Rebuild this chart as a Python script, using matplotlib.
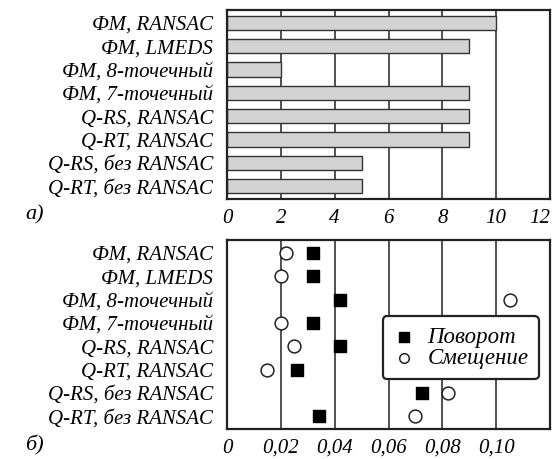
import matplotlib
matplotlib.use("Agg")
import matplotlib.pyplot as plt
import numpy as np

categories = ["ФМ, RANSAC", "ФМ, LMEDS", "ФМ, 8-точечный", "ФМ, 7-точечный",
              "Q-RS, RANSAC", "Q-RT, RANSAC", "Q-RS, без RANSAC", "Q-RT, без RANSAC"]
counts = [10, 9, 2, 9, 9, 9, 5, 5]
rotation = [0.032, 0.032, 0.042, 0.032, 0.042, 0.026, 0.0725, 0.034]
shift = [0.022, 0.020, 0.105, 0.020, 0.025, 0.015, 0.082, 0.070]
top_ticks = [0, 2, 4, 6, 8, 10, 12]
top_ticklabels = ["0", "2", "4", "6", "8", "10", "12"]
bot_ticks = [0, 0.02, 0.04, 0.06, 0.08, 0.10]
bot_ticklabels = ["0", "0,02", "0,04", "0,06", "0,08", "0,10"]

plt.rcParams['font.family'] = ['Liberation Serif', 'DejaVu Serif']
plt.rcParams['font.style'] = 'italic'

W, H = 555, 459
fig = plt.figure(figsize=(W/100, H/100), dpi=100)

def ax_rect(x0, y0, x1, y1):
    return [x0/W, 1 - y1/H, (x1-x0)/W, (y1-y0)/H]

ax1 = fig.add_axes(ax_rect(227, 10, 550, 199))
ax2 = fig.add_axes(ax_rect(227, 240, 550, 429))

ypos = np.arange(len(categories))
fs = 15

for ax in (ax1, ax2):
    for s in ax.spines.values():
        s.set_linewidth(1.6)
        s.set_color('#222222')
    ax.set_ylim(len(categories) - 0.45, -0.55)
    ax.set_yticks(ypos)
    ax.set_yticklabels(categories, fontsize=fs, style='italic')
    ax.tick_params(axis='y', length=0, pad=10)
    ax.tick_params(axis='x', length=0, pad=7)
    ax.set_axisbelow(True)
    ax.grid(axis='x', color='#222222', linewidth=1.1)

ax1.barh(ypos, counts, height=0.62, color='#d3d3d3', edgecolor='#333333', linewidth=1.0, zorder=2)
ax1.set_xlim(0, 12)
ax1.set_xticks(top_ticks)
ax1.set_xticklabels(top_ticklabels, fontsize=fs, style='italic')
ax1.get_xticklabels()[-1].set_horizontalalignment('right')

ax2.scatter(rotation, ypos, marker='s', s=80, color='black', zorder=3, label='Поворот')
ax2.scatter(shift, ypos, marker='o', s=85, facecolor='white', edgecolor='#222222', linewidth=1.1,
            zorder=3, label='Смещение')
ax2.set_xlim(0, 0.12)
ax2.set_xticks(bot_ticks)
ax2.set_xticklabels(bot_ticklabels, fontsize=fs, style='italic')

leg = ax2.legend(loc='center right', bbox_to_anchor=(1.0, 0.43), fontsize=16.5, frameon=True,
                 fancybox=True, framealpha=1, edgecolor='#222222', handletextpad=0.5,
                 borderpad=0.45, labelspacing=0.0, handlelength=1.0, markerscale=0.75)
leg.get_frame().set_linewidth(1.6)
for t in leg.get_texts():
    t.set_style('italic')

fig.text(25/W, 1 - 215/H, "а)", fontsize=16, style='italic', va='center')
fig.text(25/W, 1 - 445/H, "б)", fontsize=16, style='italic', va='center')

fig.savefig("out.png", dpi=100)
